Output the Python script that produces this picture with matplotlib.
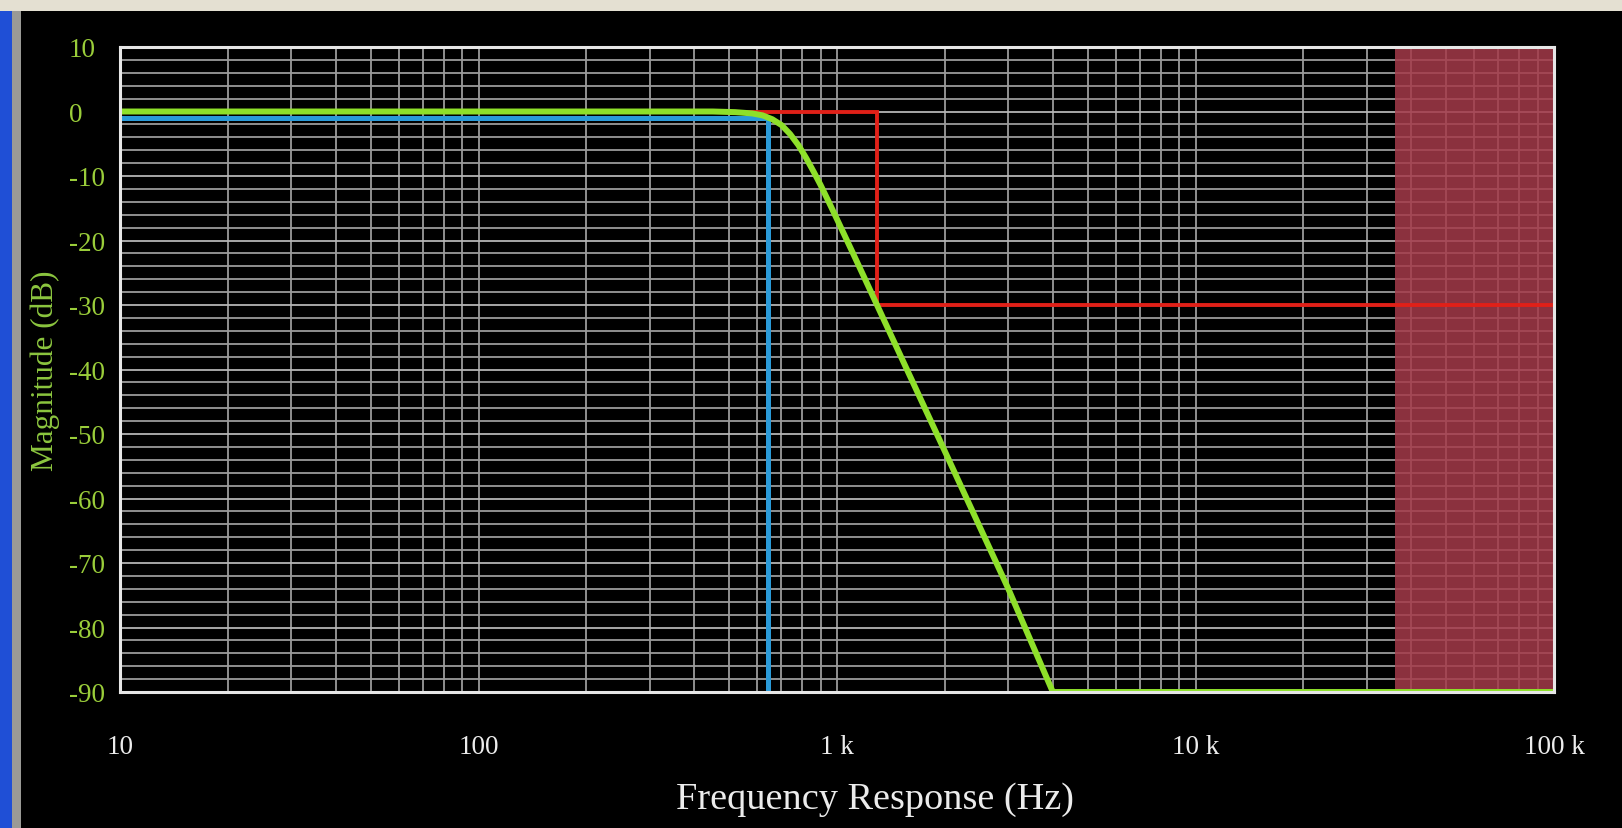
import matplotlib
matplotlib.use("Agg")
import matplotlib.pyplot as plt
from matplotlib.patches import Rectangle

# ---- data ----
green_freq = [10, 450, 520, 580, 620, 660, 700, 740, 780, 820, 860, 900, 950,
              1000, 1100, 1200, 1293, 2000, 3000, 4000, 100000]
green_db = [0, 0, -0.1, -0.3, -0.6, -1.2, -2.1, -3.5, -5.2, -7.2, -9.3, -11.4, -14.1,
            -16.7, -21.6, -26.1, -30, -52.7, -73.9, -90, -90]

blue_freq = [10, 642, 642]
blue_db = [-1, -1, -90]

red_freq = [10, 1293, 1293, 100000]
red_db = [0, 0, -30, -30]

shade_start = 36000
shade_end = 100000

xtick_vals = [10, 100, 1000, 10000, 100000]
xtick_labels = ["10", "100", "1 k", "10 k", "100 k"]
ytick_vals = [10, 0, -10, -20, -30, -40, -50, -60, -70, -80, -90]
ytick_labels = ["10", "0", "-10", "-20", "-30", "-40", "-50", "-60", "-70", "-80", "-90"]

W, H = 1622, 829
fig = plt.figure(figsize=(W / 100, H / 100), dpi=100)
fig.patch.set_facecolor("black")

# window frame decoration
fig.patches.append(Rectangle((0, 0), 12 / W, 1, transform=fig.transFigure,
                             facecolor="#1f4fd6", edgecolor="none", zorder=0))
fig.patches.append(Rectangle((12 / W, 0), 9 / W, 1, transform=fig.transFigure,
                             facecolor="#9a9a96", edgecolor="none", zorder=0))
fig.patches.append(Rectangle((0, 1 - 12 / H), 1, 12 / H, transform=fig.transFigure,
                             facecolor="#e4e0d2", edgecolor="none", zorder=0))

ax = fig.add_axes([120 / W, 1 - 693 / H, (1554 - 120) / W, (693 - 48) / H])
ax.set_facecolor("black")
ax.set_xscale("log")
ax.set_xlim(10, 100000)
ax.set_ylim(-90, 10)

# grid
grid_c = "#9a9a9a"
for dec in [10, 100, 1000, 10000]:
    for m in range(1, 10):
        f = dec * m
        if 10 < f < 100000:
            ax.axvline(f, color=grid_c, lw=1.3, zorder=1)
for y in range(-88, 10, 2):
    ax.axhline(y, color=grid_c if y % 10 else "#b4b4b4", lw=1.3, zorder=1)

# shaded region
ax.axvspan(shade_start, shade_end, facecolor="#a53a4a", alpha=0.85, lw=0, zorder=2)

ax.plot(blue_freq, blue_db, color="#2a9ad8", lw=3.6, zorder=3, solid_joinstyle="miter")
ax.plot(red_freq, red_db, color="#e02018", lw=2.8, zorder=4, solid_joinstyle="miter")
ax.plot(green_freq, green_db, color="#8ee02a", lw=4.3, zorder=5)

for s in ax.spines.values():
    s.set_color("#e6e6e6")
    s.set_linewidth(2.2)
    s.set_zorder(6)

ax.set_xticks(xtick_vals)
ax.set_xticklabels(xtick_labels)
ax.xaxis.set_minor_locator(matplotlib.ticker.NullLocator())
ax.set_yticks(ytick_vals)
ax.set_yticklabels(ytick_labels)
ax.tick_params(axis="both", length=0)
ax.tick_params(axis="x", pad=30, colors="#ececec")
ax.tick_params(axis="y", pad=37, colors="#9acd3a")
for lab in ax.get_xticklabels() + ax.get_yticklabels():
    lab.set_fontfamily("Liberation Serif")
    lab.set_fontsize(19.5)
for lab in ax.get_yticklabels():
    lab.set_horizontalalignment("left")

ax.set_xlabel("Frequency Response (Hz)", family="Liberation Serif", fontsize=27.5,
              color="#ececec")
ax.xaxis.set_label_coords(0.5265, -0.138)
ax.set_ylabel("Magnitude (dB)", family="Liberation Serif", fontsize=22.5,
              color="#8cc63f")
ax.yaxis.set_label_coords(-0.0418, 0.5)

fig.savefig("out.png", dpi=100, facecolor=fig.get_facecolor())
